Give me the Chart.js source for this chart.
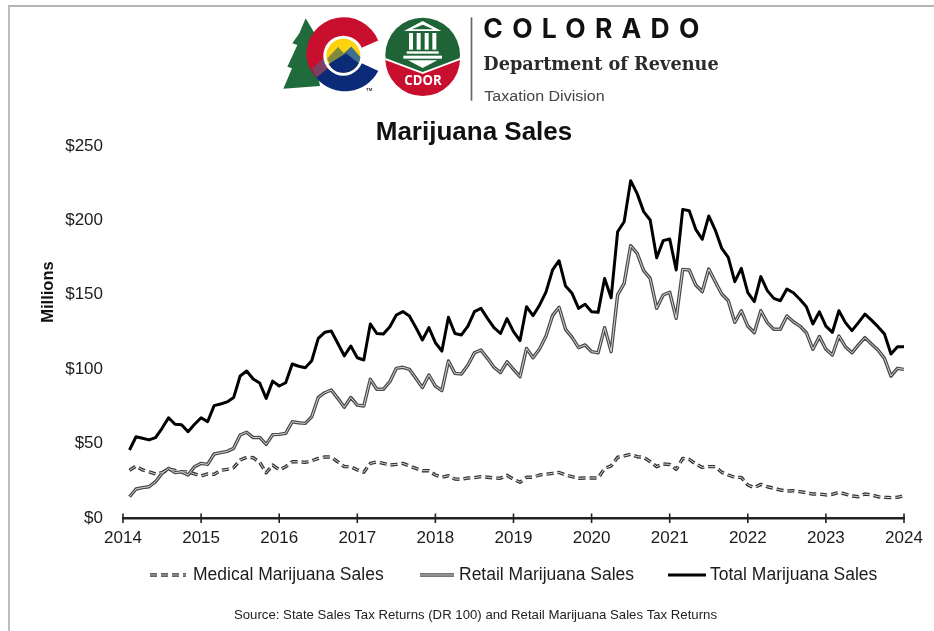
<!DOCTYPE html>
<html>
<head>
<meta charset="utf-8">
<title>Marijuana Sales</title>
<script src="https://cdn.jsdelivr.net/npm/chart.js@4"></script>
<style>
  html, body { margin: 0; padding: 0; background: #fff; }
  #page { position: relative; width: 934px; height: 631px; overflow: hidden; }
  #salesChart { position: absolute; left: 0; top: 0; }
  #frame { position: absolute; left: 8px; top: 5px; right: 0; bottom: 0; border-left: 2px solid #bdbdbd; border-top: 2px solid #b5b5b5; }
  #logo { position: absolute; left: 270px; top: 0; width: 470px; height: 150px; }
</style>
</head>
<body>
<div id="page">
  <canvas id="salesChart" width="934" height="631"></canvas>
  <div id="frame"></div>
  <!-- letterhead, drawn at 3 units per pixel -->
  <svg id="logo" viewBox="0 0 1410 450" xmlns="http://www.w3.org/2000/svg">
    <path d="M107 55 L140 110 L125 130 L150 258 L40 266 L66 205 L52 200 L82 135 L67 130 L88 100 Z" fill="#1f6b3c"/>
    <!-- state C -->
    <path d="M325 122 A112 112 0 0 0 109 166 A112 112 0 0 0 140 235 L280 165 Z" fill="#c8102e"/>
    <path d="M325 212 A112 112 0 0 1 140 235 L125 207 L220 165 L280 190 Z" fill="#0b2a78"/>
    <path d="M125 207 L165 172 L182 197 L140 233 Z" fill="#7c3f63"/>
    <path d="M328 120 L275 143 L275 190 L328 214 L350 165 Z" fill="#fff"/>
    <circle cx="220" cy="167" r="60" fill="#fff"/>
    <circle cx="220" cy="167" r="51" fill="#fdd20e"/>
    <path d="M171 176 L204 141 L222 160 L244 140 L271 172 A51 51 0 0 1 190 208 Z" fill="#7f8a3c"/>
    <path d="M222 160 L244 140 L271 172 A51 51 0 0 1 262 195 Z" fill="#3f6f8c"/>
    <path d="M176 192 L228 160 L266 190 A51 51 0 0 1 176 192 Z" fill="#0b2a78"/>
    <text x="288" y="274" font-family="Liberation Sans" font-size="13" font-weight="700" fill="#333">TM</text>
    <!-- CDOR seal -->
    <circle cx="458" cy="165" r="112" fill="#1f6437"/>
    <path d="M346 176 L458 220 L570 176 A112 112 0 0 1 346 176 Z" fill="#c8102e"/>
    <path d="M346 174 L458 216 L570 174 L570 180 L458 222 L346 180 Z" fill="#fff"/>
    <g fill="#fff">
      <path d="M458 63 L514 93 L402 93 Z M458 74 L426 88 L490 88 Z" fill-rule="evenodd"/>
      <rect x="417" y="99" width="12" height="50"/>
      <rect x="440" y="99" width="12" height="50"/>
      <rect x="464" y="99" width="12" height="50"/>
      <rect x="487" y="99" width="12" height="50"/>
      <rect x="410" y="154" width="96" height="7"/>
      <rect x="400" y="167" width="116" height="9"/>
      <path d="M414 181 L502 181 L458 204 Z"/>
    </g>
    <text x="403" y="256" font-family="Open Sans" font-size="40" font-weight="700" fill="#fff" textLength="112" lengthAdjust="spacingAndGlyphs">CDOR</text>
    <rect x="602" y="52" width="5" height="250" fill="#666"/>
    <text x="640" y="113" font-family="Inter" font-size="80" font-weight="700" letter-spacing="28" fill="#111" textLength="676" lengthAdjust="spacingAndGlyphs">COLORADO</text>
    <text x="640" y="209" font-family="DejaVu Serif" font-size="55" font-weight="700" fill="#2b2b2b" textLength="706" lengthAdjust="spacingAndGlyphs">Department of Revenue</text>
    <text x="643" y="302" font-family="Liberation Sans" font-size="46" fill="#444" textLength="361" lengthAdjust="spacingAndGlyphs">Taxation Division</text>
  </svg>
</div>

<script>
// Monthly sales in $ millions, Jan 2014 to Dec 2023
var medicalSales = [
  32, 34.9, 32.3, 31, 29.6, 30.5, 33, 32, 31, 31, 29.6, 28.2,
  29.6, 29.3, 32, 32.7, 33.8, 39, 40.8, 40.5, 37.4, 30.4, 35.6, 32.3,
  34.5, 37.8, 37.8, 37.4, 38.5, 40, 41, 41, 37.8, 34.5, 34.5, 32.3,
  30.8, 36.7, 37.7, 36.7, 35.6, 36, 36.7, 35, 33.3, 31.8, 31.8, 28.9,
  27.4, 28.4, 26.2, 26, 26.9, 27.1, 27.8, 27.4, 26.9, 26.7, 28.7, 26,
  24, 27.4, 27.4, 28.9, 29.4, 30, 30.6, 28.9, 27.8, 26.7, 26.9, 26.9,
  26.9, 33.3, 35, 40.8, 41.7, 42.8, 41.2, 40.8, 37.9, 34.5, 36.3, 36,
  32.7, 40, 39.4, 36.3, 34, 34.5, 34.5, 30.7, 28.9, 27.3, 27.3, 22.2,
  20.4, 22.6, 21, 20, 18.8, 18.1, 18.3, 17.7, 17, 16.1, 16.1, 15.5,
  15.9, 17.3, 16.1, 14.8, 14.3, 16.1, 15.5, 14.3, 13.9, 13.7, 13.9, 15
];
var retailSales = [
  14.3, 19.5, 20.4, 21, 24.4, 30, 33.4, 30.5, 31, 28.9, 34.5, 36.7,
  36, 43, 43.9, 44.8, 46.8, 55.8, 57.6, 54, 54.2, 49.5, 56, 56.2,
  56.9, 64.7, 64, 63.6, 68, 81, 84.2, 86, 80.4, 74.4, 81, 75.9,
  75.3, 93.2, 86.5, 86.5, 91.6, 100.6, 101.3, 99.9, 93.9, 87.6, 96.1, 88.7,
  85.6, 105.5, 97.2, 96.8, 102.8, 111, 112.9, 107.3, 101.3, 97.7, 105, 99.9,
  95, 114, 107.7, 113.6, 122.3, 136, 141.6, 126.8, 121.4, 114.5, 116.3, 111.8,
  111, 127.9, 111.8, 149.9, 157.7, 183, 177.9, 166.2, 161, 140.9, 149.9, 151.7,
  134.2, 167.1, 166.7, 156.6, 152.1, 167.3, 158.8, 150.5, 146, 131.5, 139.3, 129,
  124.5, 139.3, 131.3, 126.8, 126.8, 135.8, 131.9, 129, 124.5, 113.4, 121.9, 113.4,
  109.5, 122.3, 115.1, 111, 116.3, 121.2, 116.9, 112.9, 107.3, 95.4, 100.6, 99.9
];
var totalSales = [
  45.7, 54.6, 53.6, 52.5, 54, 60.3, 67.4, 63, 62.7, 58, 63, 67.4,
  64.7, 75.5, 76.6, 78, 80.9, 95.4, 98.8, 93.4, 90.7, 80.4, 92, 88.7,
  90.9, 103.5, 102, 101, 105.7, 120.7, 124.8, 125.7, 117.4, 109, 115.6, 107.7,
  106.2, 130.4, 124, 123.6, 128.6, 136.4, 138.7, 135.8, 128, 119.6, 127.9, 117.8,
  112.2, 134.9, 124, 123, 129, 138.7, 140.9, 134.2, 128, 124, 134, 125.2,
  119.2, 142, 136, 143, 152, 166.7, 172.9, 155.9, 151, 140.9, 143.6, 138.6,
  138.2, 161, 148, 192.4, 199.1, 226.7, 218, 205.9, 200.3, 174.9, 186.4, 187.5,
  166.7, 207.4, 206.5, 194, 187.3, 203, 193.5, 181.2, 175.2, 158.8, 167.8, 151.4,
  145.4, 162.2, 152.8, 147.6, 146, 153.9, 151.4, 147, 142, 130.4, 138.6, 129,
  124.8, 139.3, 131.3, 125.9, 131.3, 137, 133, 128.6, 123.6, 110.2, 115.1, 115.1
];
var yearLabels = ['2014', '2015', '2016', '2017', '2018', '2019', '2020', '2021', '2022', '2023', '2024'];
var dollarTicks = ['$0', '$50', '$100', '$150', '$200', '$250'];

// x is months since the start of 2014, so Dec 2023 lands on the 2024 tick
function toPoints(values) {
  return values.map(function (v, i) { return { x: i + 1, y: v }; });
}

var SANS = '"Liberation Sans", Arial, sans-serif';
var medicalDash = [7, 4];
var coreColor = '#d6d6d6';

// legend row: one entry per visible dataset, laid out with uneven gaps
var legendRow = [
  { sampleX: 150, sampleW: 36, textX: 193, core: true, dataset: 0 },
  { sampleX: 420, sampleW: 34, textX: 459, core: true, dataset: 1 },
  { sampleX: 668, sampleW: 38, textX: 710, core: false, dataset: 2 }
];

// X axis ticks cross the axis line; y title, legend and source note are placed by hand
var axisExtras = {
  id: 'axisExtras',
  afterDraw: function (chart) {
    var ctx = chart.ctx, xScale = chart.scales.x, yBase = chart.scales.y.bottom;
    ctx.save();
    ctx.strokeStyle = '#222';
    ctx.lineWidth = 1.6;
    xScale.ticks.forEach(function (t) {
      var px = xScale.getPixelForValue(t.value);
      ctx.beginPath();
      ctx.moveTo(px, yBase - 4.5);
      ctx.lineTo(px, yBase + 5);
      ctx.stroke();
    });

    ctx.textBaseline = 'middle';
    legendRow.forEach(function (item) {
      var d = chart.data.datasets[item.dataset];
      ctx.strokeStyle = d.borderColor;
      ctx.lineWidth = d.borderWidth;
      ctx.setLineDash(d.borderDash || []);
      ctx.beginPath();
      ctx.moveTo(item.sampleX, 575);
      ctx.lineTo(item.sampleX + item.sampleW, 575);
      ctx.stroke();
      if (item.core) {
        ctx.strokeStyle = coreColor;
        ctx.lineWidth = 1;
        ctx.stroke();
      }
      ctx.font = '17.5px ' + SANS;
      ctx.fillStyle = '#1c1c1c';
      ctx.textAlign = 'left';
      ctx.fillText(d.label, item.textX, 575);
    });

    ctx.textAlign = 'center';
    ctx.font = '13.2px ' + SANS;
    ctx.fillStyle = '#222';
    ctx.fillText('Source: State Sales Tax Returns (DR 100) and Retail Marijuana Sales Tax Returns', 475.5, 615);
    ctx.translate(48.5, 292);
    ctx.rotate(-Math.PI / 2);
    ctx.font = 'bold 16.5px ' + SANS;
    ctx.fillStyle = '#111';
    ctx.fillText('Millions', 0, 0);
    ctx.restore();
  }
};

var ctx1 = document.getElementById('salesChart').getContext('2d');
var salesChart = new Chart(ctx1, {
  type: 'line',
  data: {
    datasets: [
      { label: 'Medical Marijuana Sales', data: toPoints(medicalSales), borderColor: '#333', borderWidth: 3.4, borderDash: medicalDash, order: 1 },
      { label: 'Retail Marijuana Sales', data: toPoints(retailSales), borderColor: '#4a4a4a', borderWidth: 3.4, order: 1 },
      { label: 'Total Marijuana Sales', data: toPoints(totalSales), borderColor: '#000', borderWidth: 3, order: 2 },
      // thin light lines on top give the two outlined series their hollow look
      { label: '', data: toPoints(medicalSales), borderColor: coreColor, borderWidth: 1, borderDash: medicalDash, order: 0 },
      { label: '', data: toPoints(retailSales), borderColor: coreColor, borderWidth: 1, order: 0 }
    ]
  },
  options: {
    responsive: false,
    animation: false,
    layout: { padding: { left: 44, right: 30, top: 0, bottom: 81 } },
    elements: {
      point: { radius: 0 },
      line: { tension: 0, borderCapStyle: 'butt', borderJoinStyle: 'round' }
    },
    scales: {
      x: {
        type: 'linear',
        min: 0,
        max: 120,
        grid: { display: false, drawTicks: false },
        border: { display: true, color: '#222', width: 2.6 },
        ticks: {
          stepSize: 12,
          padding: 10,
          maxRotation: 0,
          autoSkip: false,
          color: '#1c1c1c',
          font: { family: SANS, size: 17 },
          callback: function (v) { return yearLabels[v / 12]; }
        },
        afterFit: function (scale) { scale.height = 32; }
      },
      y: {
        min: 0,
        max: 250,
        grid: { display: false, drawTicks: false },
        border: { display: false },
        ticks: {
          stepSize: 50,
          padding: 20,
          color: '#1c1c1c',
          font: { family: SANS, size: 17 },
          callback: function (v) { return dollarTicks[v / 50]; }
        },
        afterFit: function (scale) { scale.width = 79; }
      }
    },
    plugins: {
      title: {
        display: true,
        text: 'Marijuana Sales',
        color: '#111',
        font: { family: SANS, size: 26, weight: 'bold', lineHeight: 1 },
        padding: { top: 120, bottom: 0 }
      },
      legend: { display: false },
      tooltip: { enabled: false }
    }
  },
  plugins: [axisExtras]
});
</script>
</body>
</html>
